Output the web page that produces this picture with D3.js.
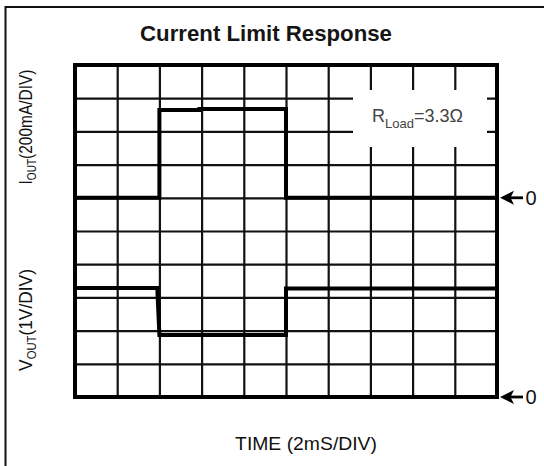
<!DOCTYPE html>
<html>
<head>
<meta charset="utf-8">
<script src="https://cdn.jsdelivr.net/npm/d3@7"></script>
<style>
  html, body { margin: 0; padding: 0; background: #fff; }
  svg { display: block; }
  text { font-family: "Liberation Sans", Arial, sans-serif; }
</style>
</head>
<body>
<svg></svg>
<script>
// scope shot data
// time in ms (2 ms/div), current in mA (200 mA/div), voltage in V (1 V/div)
const timeDivs = [0, 2, 4, 6, 8, 10, 12, 14, 16, 18, 20];
const voltDivs = [0, 1, 2, 3, 4, 5, 6, 7, 8, 9, 10];

const iTime    = [0, 4, 4, 5.9, 5.9, 10, 10, 20];
const iCurrent = [0, 0, 529, 529, 535, 535, 0, 0];

const vTime    = [0, 3.9, 4.0, 10, 10, 20];
const vVolt    = [3.28, 3.28, 1.87, 1.87, 3.27, 3.27];

const zeroMarks = [{ axis: 'I', value: 0 }, { axis: 'V', value: 0 }];

const width = 544,
      height = 466;

const svg = d3.select('svg')
              .attr('width', width)
              .attr('height', height);

// plot area
const x0 = 75, x1 = 497, y0 = 397, y1 = 65;

const xScale = d3.scaleLinear().domain([0, 20]).range([x0, x1]);
const yVolt  = d3.scaleLinear().domain([0, 10]).range([y0, y1]);
const yCurr  = d3.scaleLinear().domain([-1200, 800]).range([y0, y1]); // zero 4 div from top

// outer frame (only top + left visible, the rest is cropped)
svg.append('path')
   .attr('d', `M5.5,${height} V7 H${width}`)
   .attr('fill', 'none')
   .attr('stroke', '#111')
   .attr('stroke-width', 2);

// title
addFitted(svg.append('g'), 'Current Limit Response', 266, 41, 22, 'bold', 252, '#151515');

// vertical grid lines
const gx = svg.append('g')
   .attr('transform', `translate(0,${y0})`)
   .call(d3.axisBottom(xScale)
           .tickValues(timeDivs.slice(1, -1))
           .tickSize(-(y0 - y1))
           .tickFormat(''));
gx.select('.domain').remove();

// horizontal grid lines
const gy = svg.append('g')
   .attr('transform', `translate(${x0},0)`)
   .call(d3.axisLeft(yVolt)
           .tickValues(voltDivs.slice(1, -1))
           .tickSize(-(x1 - x0))
           .tickFormat(''));
gy.select('.domain').remove();

svg.selectAll('.tick line')
   .attr('stroke', '#111')
   .attr('stroke-width', 2.2);

// white patch behind the load label
svg.append('rect')
   .attr('x', 353).attr('y', 90)
   .attr('width', 134).attr('height', 57)
   .attr('fill', '#fff');

// traces
const lineI = d3.line()
    .x((d, i) => xScale(iTime[i]))
    .y(d => yCurr(d));
const lineV = d3.line()
    .x((d, i) => xScale(vTime[i]))
    .y(d => yVolt(d));

svg.append('path')
   .attr('d', lineI(iCurrent))
   .attr('fill', 'none').attr('stroke', '#000')
   .attr('stroke-width', 4).attr('stroke-linejoin', 'miter');

svg.append('path')
   .attr('d', lineV(vVolt))
   .attr('fill', 'none').attr('stroke', '#000')
   .attr('stroke-width', 4).attr('stroke-linejoin', 'miter');

// plot border
svg.append('rect')
   .attr('x', x0).attr('y', y1)
   .attr('width', x1 - x0).attr('height', y0 - y1)
   .attr('fill', 'none')
   .attr('stroke', '#000')
   .attr('stroke-width', 4);

// zero markers on the right
zeroMarks.forEach(m => {
  const y = m.axis === 'I' ? yCurr(m.value) : yVolt(m.value);
  svg.append('path')
     .attr('d', `M500,${y} L514,${y - 7} L510.5,${y} L514,${y + 7} Z`)
     .attr('fill', '#000');
  svg.append('line')
     .attr('x1', 510).attr('x2', 523)
     .attr('y1', y).attr('y2', y)
     .attr('stroke', '#000').attr('stroke-width', 2.8);
  svg.append('text')
     .attr('x', 525.5).attr('y', y + 7)
     .attr('font-size', 20)
     .attr('fill', '#111')
     .text('0');
});

// load label
const rl = svg.append('text')
   .attr('x', 372).attr('y', 122)
   .attr('font-size', 18)
   .attr('fill', '#444');
rl.append('tspan').text('R');
rl.append('tspan').attr('font-size', 13).attr('dy', 6).text('Load');
rl.append('tspan').attr('dy', -6).text('=3.3\u03A9');

// x label
addFitted(svg.append('g'), 'TIME (2mS/DIV)', 306, 450, 18.5, 'normal', 142, '#111');

// y labels, rotated
yLabel('I', '(200mA/DIV)', 127, 115);
yLabel('V', '(1V/DIV)', 320, 102);

/* HELPER FUNCTIONS */

// text centred on cx, squeezed to a target width if one is given
function addFitted(g, str, cx, base, size, weight, target, fill) {
  const t = g.append('text')
             .attr('text-anchor', 'middle')
             .attr('font-size', size)
             .attr('font-weight', weight)
             .attr('fill', fill)
             .text(str);
  let s = 1;
  if (target) s = target / t.node().getComputedTextLength();
  g.attr('transform', `translate(${cx},${base}) scale(${s},1)`);
}

// rotated label with OUT subscript, fitted to a target length
function yLabel(main, rest, cy, target) {
  const g = svg.append('g');
  const t = g.append('text')
     .attr('text-anchor', 'middle')
     .attr('font-size', 18.5)
     .attr('fill', '#111');
  t.append('tspan').text(main);
  t.append('tspan').attr('font-size', 12).attr('dy', 4).text('OUT');
  t.append('tspan').attr('dy', -4).text(rest);
  const s = target / t.node().getComputedTextLength();
  g.attr('transform', `translate(32,${cy}) rotate(-90) scale(${s},1)`);
}
</script>
</body>
</html>
